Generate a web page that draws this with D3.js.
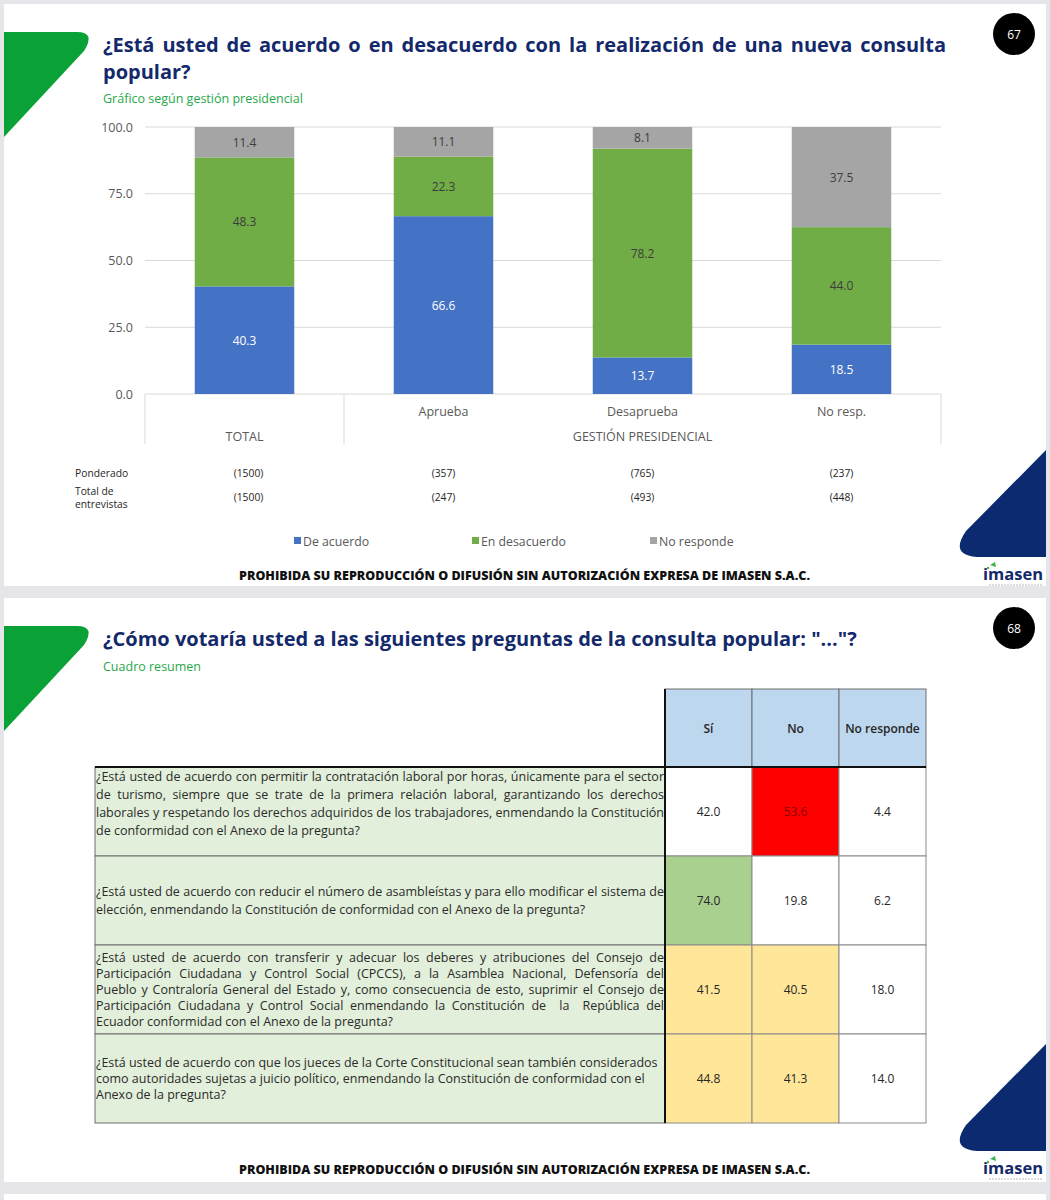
<!DOCTYPE html>
<html>
<head>
<meta charset="utf-8">
<script src="https://cdn.jsdelivr.net/npm/d3@7"></script>
<style>
  html, body { margin: 0; padding: 0; background: #e6e6ea; }
  svg { display: block; }
  text { font-family: "Open Sans", Lato, sans-serif; }
</style>
</head>
<body>
<svg id="page" width="1050" height="1200"></svg>
<script>
// ---------------- DATA ----------------
const categories = ["TOTAL", "Aprueba", "Desaprueba", "No resp."];
const seriesNames = ["De acuerdo", "En desacuerdo", "No responde"];
const deAcuerdo = [40.3, 66.6, 13.7, 18.5];
const enDesacuerdo = [48.3, 22.3, 78.2, 44.0];
const noResponde = [11.4, 11.1, 8.1, 37.5];
const yTicks = [0, 25, 50, 75, 100];
const ponderado = ["(1500)", "(357)", "(765)", "(237)"];
const totalEntrevistas = ["(1500)", "(247)", "(493)", "(448)"];

const tableCols = ["Sí", "No", "No responde"];
const questions = [
  ["¿Está usted de acuerdo con permitir la contratación laboral por horas, únicamente para el sector",
   "de turismo, siempre que se trate de la primera relación laboral, garantizando los derechos",
   "laborales y respetando los derechos adquiridos de los trabajadores, enmendando la Constitución",
   "de conformidad con el Anexo de la pregunta?"],
  ["¿Está usted de acuerdo con reducir el número de asambleístas y para ello modificar el sistema de",
   "elección, enmendando la Constitución de conformidad con el Anexo de la pregunta?"],
  ["¿Está usted de acuerdo con transferir y adecuar los deberes y atribuciones del Consejo de",
   "Participación Ciudadana y Control Social (CPCCS), a la Asamblea Nacional, Defensoría del",
   "Pueblo y Contraloría General del Estado y, como consecuencia de esto, suprimir el Consejo de",
   "Participación Ciudadana y Control Social enmendando la Constitución de  la  República del",
   "Ecuador conformidad con el Anexo de la pregunta?"],
  ["¿Está usted de acuerdo con que los jueces de la Corte Constitucional sean también considerados",
   "como autoridades sujetas a juicio político, enmendando la Constitución de conformidad con el",
   "Anexo de la pregunta?"]
];
const si = [42.0, 74.0, 41.5, 44.8];
const no = [53.6, 19.8, 40.5, 41.3];
const noResp = [4.4, 6.2, 18.0, 14.0];

// ---------------- STYLES ----------------
const NAVY = "#13296b";
const GREEN = "#0aa237";
const seriesColors = ["#4472c4", "#70ad47", "#a5a5a5"];
const labelColors = ["#ffffff", "#3d3d3d", "#3d3d3d"];
const cellStyle = [["w", "r", "w"], ["g", "w", "w"], ["y", "y", "w"], ["y", "y", "w"]];
const cellFill = { w: "#ffffff", r: "#ff0000", g: "#a9d08e", y: "#ffe699" };
const justifyRow = [[1,1,1,0],[1,0],[1,1,1,1,0],[0,0,0]];

const svg = d3.select("#page");

function justify(sel, target) {
  const node = sel.node();
  const w = node.getComputedTextLength();
  const gaps = (node.textContent.match(/ /g) || []).length;
  if (gaps > 0) sel.attr("word-spacing", (target - w) / gaps);
}

// ---------------- SLIDE FRAMES ----------------
function slideFrame(y0, y1, pageNum, title, titleLen, subtitle) {
  const g = svg.append("g");
  g.append("rect").attr("x", 4).attr("y", y0).attr("width", 1042).attr("height", y1 - y0).attr("fill", "#ffffff");
  const o = y0 - 4;
  g.append("path")
    .attr("d", `M4,${o + 32} H77 Q96,${o + 32} 84,${o + 51} L4,${o + 137} Z`)
    .attr("fill", GREEN);
  g.append("circle").attr("cx", 1014).attr("cy", o + 34).attr("r", 21).attr("fill", "#000");
  g.append("text").attr("x", 1014).attr("y", o + 38.5).attr("text-anchor", "middle")
    .attr("fill", "#fff").attr("font-size", 12).text(pageNum);
  title.forEach((t, i) => {
    const tx = g.append("text").attr("x", 103).attr("y", o + 52 + i * 27)
      .attr("fill", NAVY).attr("font-size", 20).attr("font-weight", 700).text(t);
    if (titleLen[i]) justify(tx, titleLen[i]);
  });
  g.append("text").attr("x", 103).attr("y", o + (title.length > 1 ? 103 : 77)).attr("fill", "#1fa84a")
    .attr("font-size", 12.5).text(subtitle);
  g.append("path")
    .attr("d", `M1046,${o + 450} L966,${o + 531} Q948,${o + 557} 982,${o + 557} H1046 Z`)
    .attr("fill", "#0b2a6f");
  g.append("text").attr("x", 1043).attr("y", o + 580).attr("text-anchor", "end")
    .attr("fill", NAVY).attr("font-size", 16.5).attr("font-weight", 700).text("imasen");
  g.append("path").attr("d", `M990,${o + 565} l5,-3 l1,5 Z`).attr("fill", "#3cb54a");
  g.append("circle").attr("cx", 988).attr("cy", o + 568).attr("r", 1.2).attr("fill", "#3cb54a");
  g.append("line").attr("x1", 989).attr("x2", 1043).attr("y1", o + 585).attr("y2", o + 585)
    .attr("stroke", "#b8b8b8").attr("stroke-width", 1).attr("stroke-dasharray", "2,1");
  g.append("text").attr("x", 239).attr("y", o + 580)
    .attr("fill", "#111").attr("font-size", 11.5).attr("font-weight", 800)
    .attr("textLength", 571).attr("lengthAdjust", "spacingAndGlyphs")
    .text("PROHIBIDA SU REPRODUCCIÓN O DIFUSIÓN SIN AUTORIZACIÓN EXPRESA DE IMASEN S.A.C.");
}

slideFrame(4, 586, "67",
  ["¿Está usted de acuerdo o en desacuerdo con la realización de una nueva consulta", "popular?"],
  [843, 0], "Gráfico según gestión presidencial");
slideFrame(598, 1182, "68",
  ["¿Cómo votaría usted a las siguientes preguntas de la consulta popular: \"...\"?"],
  [0], "Cuadro resumen");

svg.append("rect").attr("x", 4).attr("y", 1194).attr("width", 1042).attr("height", 6).attr("fill", "#fff");

// ---------------- CHART (slide 67) ----------------
const x = d3.scaleBand().domain(categories).range([145, 941]).paddingInner(0.5).paddingOuter(0.25);
const y = d3.scaleLinear().domain([0, 100]).range([394, 127]);

const chart = svg.append("g");
chart.append("g").selectAll("line").data(yTicks).join("line")
  .attr("x1", 145).attr("x2", 941).attr("y1", d => y(d)).attr("y2", d => y(d))
  .attr("stroke", "#d9d9d9").attr("stroke-width", 1);

const yAxis = chart.append("g").attr("transform", "translate(133,0)")
  .call(d3.axisLeft(y).tickValues(yTicks).tickFormat(d3.format(".1f")).tickSize(0).tickPadding(0));
yAxis.select(".domain").remove();
yAxis.selectAll("text").attr("fill", "#595959").attr("font-size", 12.5)
  .attr("font-family", "'Open Sans', Lato, sans-serif");

const rows = categories.map((c, i) => ({ cat: c, "De acuerdo": deAcuerdo[i], "En desacuerdo": enDesacuerdo[i], "No responde": noResponde[i] }));
const stacked = d3.stack().keys(seriesNames)(rows);
const layers = chart.append("g").selectAll("g").data(stacked).join("g")
  .attr("fill", (d, i) => seriesColors[i]);
layers.selectAll("rect").data(d => d).join("rect")
  .attr("x", d => x(d.data.cat)).attr("width", x.bandwidth())
  .attr("y", d => y(d[1])).attr("height", d => y(d[0]) - y(d[1]));
chart.append("g").selectAll("g").data(stacked).join("g")
  .attr("fill", (d, i) => labelColors[i])
  .selectAll("text").data(d => d).join("text")
  .attr("x", d => x(d.data.cat) + x.bandwidth() / 2)
  .attr("y", d => (y(d[0]) + y(d[1])) / 2 + 4.5)
  .attr("text-anchor", "middle").attr("font-size", 12)
  .text(d => d3.format(".1f")(d[1] - d[0]));

const step = x.step();
const sepX = [145, 145 + step, 941];
chart.append("g").selectAll("line").data(sepX).join("line")
  .attr("x1", d => d).attr("x2", d => d).attr("y1", 394).attr("y2", 444)
  .attr("stroke", "#d9d9d9");
chart.append("g").selectAll("text").data(categories.slice(1)).join("text")
  .attr("x", d => x(d) + x.bandwidth() / 2).attr("y", 415.5)
  .attr("text-anchor", "middle").attr("fill", "#595959").attr("font-size", 12.5).text(d => d);
chart.append("text").attr("x", x("TOTAL") + x.bandwidth() / 2).attr("y", 440.5)
  .attr("text-anchor", "middle").attr("fill", "#595959").attr("font-size", 12.5).text("TOTAL");
chart.append("text").attr("x", x("Desaprueba") + x.bandwidth() / 2).attr("y", 440.5)
  .attr("text-anchor", "middle").attr("fill", "#595959").attr("font-size", 12.5).text("GESTIÓN PRESIDENCIAL");

chart.append("text").attr("x", 75).attr("y", 477).attr("fill", "#262626").attr("font-size", 10.3).text("Ponderado");
chart.append("text").attr("x", 75).attr("y", 495).attr("fill", "#262626").attr("font-size", 10.3).text("Total de");
chart.append("text").attr("x", 75).attr("y", 508).attr("fill", "#262626").attr("font-size", 10.3).text("entrevistas");
chart.append("g").selectAll("text").data(ponderado).join("text")
  .attr("x", (d, i) => x(categories[i]) + x.bandwidth() / 2 + (i === 0 ? 4 : 0)).attr("y", 477)
  .attr("text-anchor", "middle").attr("fill", "#262626").attr("font-size", 10.3).text(d => d);
chart.append("g").selectAll("text").data(totalEntrevistas).join("text")
  .attr("x", (d, i) => x(categories[i]) + x.bandwidth() / 2 + (i === 0 ? 4 : 0)).attr("y", 501)
  .attr("text-anchor", "middle").attr("fill", "#262626").attr("font-size", 10.3).text(d => d);

const legendX = d3.scalePoint().domain(seriesNames).range([294, 650]);
const lg = chart.append("g").selectAll("g").data(seriesNames).join("g")
  .attr("transform", d => `translate(${legendX(d)},541)`);
lg.append("rect").attr("x", 0).attr("y", -4).attr("width", 7).attr("height", 7)
  .attr("fill", (d, i) => seriesColors[i]);
lg.append("text").attr("x", 9).attr("y", 4.5).attr("fill", "#595959").attr("font-size", 12.3).text(d => d);

// ---------------- TABLE (slide 68) ----------------
const colX = d3.scaleBand().domain(tableCols).range([665, 926]);
const rowY = d3.scaleBand().domain(d3.range(questions.length)).range([767, 1123]);
const headTop = 689;
const qLeft = 95;
const tbl = svg.append("g");
const values = [si, no, noResp];

tbl.append("g").selectAll("rect").data(tableCols).join("rect")
  .attr("x", d => colX(d)).attr("y", headTop).attr("width", colX.bandwidth()).attr("height", 767 - headTop)
  .attr("fill", "#bdd7ee").attr("stroke", "#6f6f6f").attr("stroke-width", 1);
tbl.append("g").selectAll("text").data(tableCols).join("text")
  .attr("x", d => colX(d) + colX.bandwidth() / 2).attr("y", (headTop + 767) / 2 + 4.5)
  .attr("text-anchor", "middle").attr("fill", "#262626").attr("font-size", 12).attr("font-weight", 600)
  .text(d => d);

tbl.append("g").selectAll("rect").data(questions).join("rect")
  .attr("x", qLeft).attr("y", (d, i) => rowY(i)).attr("width", 665 - qLeft).attr("height", rowY.bandwidth())
  .attr("fill", "#e2efda").attr("stroke", "#6f6f6f").attr("stroke-width", 1);
const lineH = [18, 18, 16, 16];
questions.forEach((lines, r) => {
  const cy = rowY(r) + rowY.bandwidth() / 2;
  const h = lineH[r];
  lines.forEach((ln, k) => {
    const t = tbl.append("text").attr("x", 96).attr("y", cy + (k - (lines.length - 1) / 2) * h + 4 - (r === 0 ? 8 : 0))
      .attr("fill", "#2b2b2b").attr("font-size", 12.5)
      .attr("xml:space", "preserve").text(ln);
    if (justifyRow[r][k]) justify(t, 568);
  });
});

const cells = [];
values.forEach((arr, c) => arr.forEach((v, r) => cells.push({ r, c, v })));
tbl.append("g").selectAll("rect").data(cells).join("rect")
  .attr("x", d => colX(tableCols[d.c])).attr("y", d => rowY(d.r))
  .attr("width", colX.bandwidth()).attr("height", rowY.bandwidth())
  .attr("fill", d => cellFill[cellStyle[d.r][d.c]]).attr("stroke", "#8a8a8a").attr("stroke-width", 1);
tbl.append("g").selectAll("text").data(cells).join("text")
  .attr("x", d => colX(tableCols[d.c]) + colX.bandwidth() / 2).attr("y", d => rowY(d.r) + rowY.bandwidth() / 2 + 4.5)
  .attr("text-anchor", "middle").attr("font-size", 12)
  .attr("fill", d => cellStyle[d.r][d.c] === "r" ? "#8b0000" : "#262626")
  .text(d => d3.format(".1f")(d.v));

tbl.append("line").attr("x1", 665).attr("x2", 665).attr("y1", headTop).attr("y2", 1123)
  .attr("stroke", "#111").attr("stroke-width", 2);
tbl.append("line").attr("x1", qLeft).attr("x2", 926).attr("y1", 767).attr("y2", 767)
  .attr("stroke", "#111").attr("stroke-width", 2);
</script>
</body>
</html>
